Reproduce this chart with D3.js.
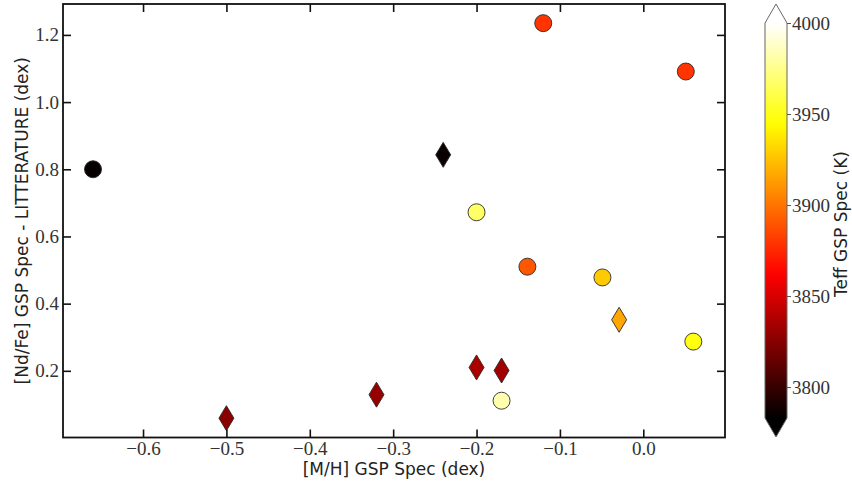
<!DOCTYPE html>
<html><head><meta charset="utf-8">
<script src="https://cdn.jsdelivr.net/npm/d3@7"></script>
<style>
body{margin:0;background:#fff;}
svg{display:block;}
</style></head>
<body>
<svg id="c" width="852" height="490"></svg>
<script>
// ---- data ----
const metallicity = [-0.66, -0.50, -0.32, -0.24, -0.20, -0.139, -0.20, -0.17, -0.17, -0.12, 0.051, -0.049, -0.029, 0.060];
const ndFeDiff    = [0.800, 0.059, 0.129, 0.843, 0.672, 0.510, 0.210, 0.201, 0.111, 1.235, 1.091, 0.478, 0.352, 0.287];
const teff        = [3785, 3826, 3830, 3786, 3967, 3890, 3836, 3833, 3982, 3879, 3879, 3928, 3916, 3948];
const markerType  = ["circle","diamond","diamond","diamond","circle","circle","diamond","diamond","circle","circle","circle","circle","diamond","circle"];
const xTicks = [-0.6, -0.5, -0.4, -0.3, -0.2, -0.1, 0.0];
const yTicks = [0.2, 0.4, 0.6, 0.8, 1.0, 1.2];
const cTicks = [3800, 3850, 3900, 3950, 4000];
const xDomain = [-0.696, 0.098];
const yDomain = [0.0015, 1.292];
const cDomain = [3783, 4000];

// ---- layout ----
const L = 63, R = 725, T = 4, B = 437.5;
const svg = d3.select("#c");
const x = d3.scaleLinear().domain(xDomain).range([L, R]);
const y = d3.scaleLinear().domain(yDomain).range([B, T]);

// matplotlib "hot" colormap
function hot(t){
  t = Math.max(0, Math.min(1, t));
  const r = Math.min(1, t/0.365079);
  const g = Math.max(0, Math.min(1, (t-0.365079)/(0.746032-0.365079)));
  const b = Math.max(0, Math.min(1, (t-0.746032)/(1-0.746032)));
  return d3.rgb(r*255, g*255, b*255).toString();
}
const cNorm = d3.scaleLinear().domain(cDomain).range([0,1]).clamp(true);
const color = v => hot(cNorm(v));

const serif = "'Liberation Serif', 'DejaVu Serif', serif";
const sans = "'DejaVu Sans', 'Liberation Sans', sans-serif";
const fmtMinus = s => s.replace("-", "\u2212");
const tickFont = 19;

// ---- points ----
const pts = metallicity.map((m,i)=>({x:m, y:ndFeDiff[i], t:teff[i], m:markerType[i]}));
const diamond = "M0,-12.5L7.5,0L0,12.5L-7.5,0Z";
const g = svg.append("g");
pts.forEach(p=>{
  if(p.m==="circle"){
    g.append("circle").attr("cx", x(p.x)).attr("cy", y(p.y)).attr("r", 8.5)
      .attr("fill", color(p.t)).attr("stroke","#2a2a2a").attr("stroke-width",0.9);
  } else {
    g.append("path").attr("d", diamond).attr("transform",`translate(${x(p.x)},${y(p.y)})`)
      .attr("fill", color(p.t)).attr("stroke","#2a2a2a").attr("stroke-width",0.9);
  }
});

// ---- axes (inward ticks on all sides) ----
const tickLen = 8;
const fmtX = d => fmtMinus(d3.format(".1f")(d));
const axB = d3.axisBottom(x).tickValues(xTicks).tickSizeInner(-tickLen).tickSizeOuter(0).tickPadding(4).tickFormat(fmtX);
const axT = d3.axisTop(x).tickValues(xTicks).tickSizeInner(-tickLen).tickSizeOuter(0).tickFormat("");
const axLft = d3.axisLeft(y).tickValues(yTicks).tickSizeInner(-tickLen).tickSizeOuter(0).tickPadding(4).tickFormat(d3.format(".1f"));
const axRgt = d3.axisRight(y).tickValues(yTicks).tickSizeInner(-tickLen).tickSizeOuter(0).tickFormat("");

function style(sel){
  sel.select(".domain").remove();
  sel.selectAll(".tick line").attr("stroke","#111").attr("stroke-width",1.6);
  sel.selectAll(".tick text").attr("font-family", serif).attr("font-size", tickFont).attr("fill","#333");
}
svg.append("g").attr("transform",`translate(0,${B})`).call(axB).call(style);
svg.append("g").attr("transform",`translate(0,${T})`).call(axT).call(style);
svg.append("g").attr("transform",`translate(${L},0)`).call(axLft).call(style);
svg.append("g").attr("transform",`translate(${R},0)`).call(axRgt).call(style);

svg.append("rect").attr("x",L).attr("y",T).attr("width",R-L).attr("height",B-T)
  .attr("fill","none").attr("stroke","#111").attr("stroke-width",1.8);

// axis labels
svg.append("text").attr("x",(L+R)/2).attr("y",475).attr("text-anchor","middle")
  .attr("font-family",sans).attr("font-size",17).attr("fill","#222")
  .text("[M/H] GSP Spec (dex)");
svg.append("text").attr("transform",`translate(28,${(T+B)/2}) rotate(-90)`).attr("text-anchor","middle")
  .attr("font-family",sans).attr("font-size",17).attr("fill","#222")
  .text("[Nd/Fe] GSP Spec - LITTERATURE (dex)");

// ---- colorbar ----
const cbL = 765, cbR = 787, cbTop = 23, cbBot = 418, tipTop = 4, tipBot = 437;
const cy = d3.scaleLinear().domain(cDomain).range([cbBot, cbTop]);
const defs = svg.append("defs");
const grad = defs.append("linearGradient").attr("id","cg").attr("x1",0).attr("y1",1).attr("x2",0).attr("y2",0);
d3.range(0,1.0001,0.02).forEach(s=>{
  grad.append("stop").attr("offset",s).attr("stop-color",hot(s));
});
svg.append("rect").attr("x",cbL).attr("y",cbTop).attr("width",cbR-cbL).attr("height",cbBot-cbTop).attr("fill","url(#cg)");
svg.append("path").attr("d",`M${cbL},${cbTop}L${(cbL+cbR)/2},${tipTop}L${cbR},${cbTop}Z`).attr("fill",hot(1));
svg.append("path").attr("d",`M${cbL},${cbBot}L${(cbL+cbR)/2},${tipBot}L${cbR},${cbBot}Z`).attr("fill",hot(0));
svg.append("path").attr("d",`M${cbL},${cbTop}L${(cbL+cbR)/2},${tipTop}L${cbR},${cbTop}L${cbR},${cbBot}L${(cbL+cbR)/2},${tipBot}L${cbL},${cbBot}Z`)
  .attr("fill","none").attr("stroke","#666").attr("stroke-width",1);
const axC = d3.axisRight(cy).tickValues(cTicks).tickSizeInner(4).tickSizeOuter(0).tickPadding(1).tickFormat(d3.format("d"));
svg.append("g").attr("transform",`translate(${cbR},0)`).call(axC).call(sel=>{
  sel.select(".domain").remove();
  sel.selectAll(".tick line").attr("stroke","#555").attr("stroke-width",1);
  sel.selectAll(".tick text").attr("font-family", serif).attr("font-size", tickFont).attr("fill","#333");
});
svg.append("text").attr("transform",`translate(847,224) rotate(-90)`).attr("text-anchor","middle")
  .attr("font-family",sans).attr("font-size",17).attr("fill","#222")
  .text("Teff GSP Spec (K)");
</script>
</body></html>
